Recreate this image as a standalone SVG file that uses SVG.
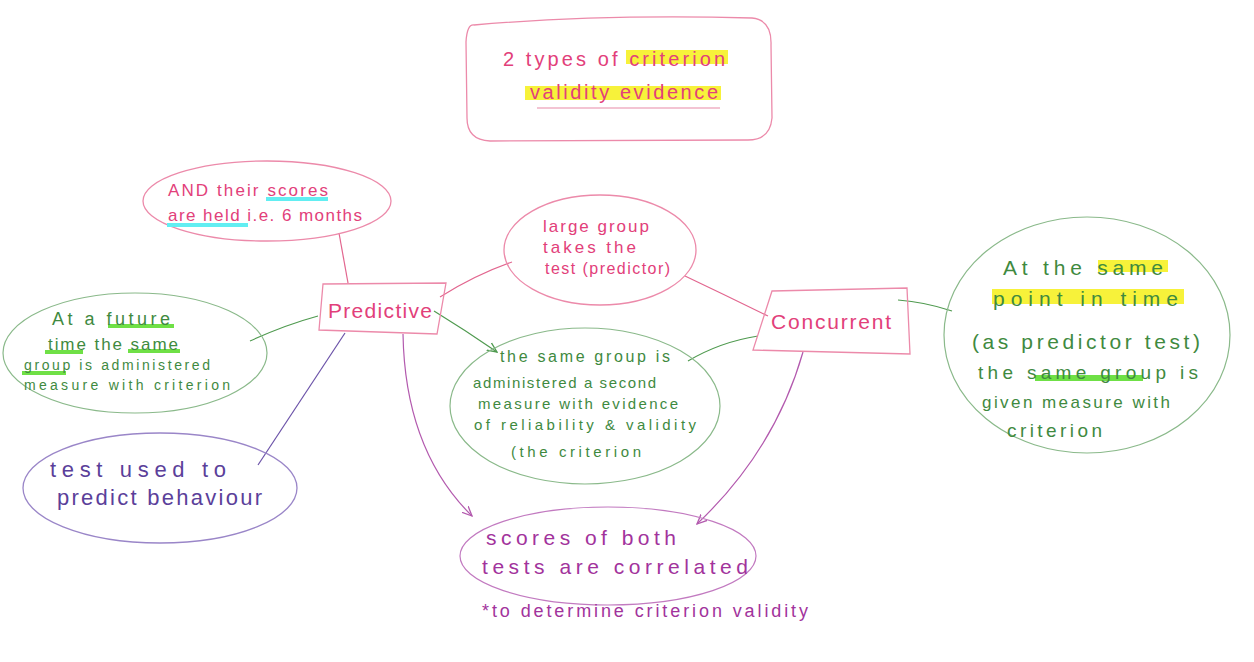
<svg xmlns="http://www.w3.org/2000/svg" width="1254" height="662" viewBox="0 0 1254 662">
<defs>
<style>
svg{font-size:17px}
.t{font-family:"Liberation Sans",Arial,sans-serif}
.pk{fill:#e2407a}
.gr{fill:#3f8a3f}
.pu{fill:#5b3f9a}
.mg{fill:#a2339c}
.spk{fill:none;stroke:#ec8aaa;stroke-width:1.3}
.sgr{fill:none;stroke:#8ab98a;stroke-width:1.2}
.spu{fill:none;stroke:#9a86c8;stroke-width:1.3}
.smg{fill:none;stroke:#c27ac0;stroke-width:1.2}
.hy{fill:#f7f23a}
.hc{fill:#62eef2}
.hg{fill:#6fe046}
</style>
<marker id="apu" viewBox="0 0 10 10" refX="9" refY="5" markerWidth="9" markerHeight="9" orient="auto"><path d="M0,1 L9,5 L0,9" fill="none" stroke="#b35aae" stroke-width="1.2"/></marker>
<marker id="agr" viewBox="0 0 10 10" refX="9" refY="5" markerWidth="9" markerHeight="9" orient="auto"><path d="M0,1 L9,5 L0,9" fill="none" stroke="#4f9a4f" stroke-width="1.2"/></marker>
</defs>
<rect width="1254" height="662" fill="#ffffff"/>

<g id="connectors" fill="none" stroke-width="1.2">
<path d="M339,233 L348,283" stroke="#e2668f"/>
<path d="M250,341 Q285,325 318,316" stroke="#4f9a4f"/>
<path d="M258,465 L345,333" stroke="#6b52a8"/>
<path d="M440,297 Q475,275 512,262" stroke="#e2668f"/>
<path d="M685,276 Q725,295 768,316" stroke="#e2668f"/>
<path d="M434,311 Q465,330 497,352" stroke="#4f9a4f" marker-end="url(#agr)"/>
<path d="M688,361 Q720,342 758,336" stroke="#4f9a4f"/>
<path d="M952,311 Q925,302 898,300" stroke="#4f9a4f"/>
<path d="M403,334 Q405,450 472,516" stroke="#b35aae" marker-end="url(#apu)"/>
<path d="M803,352 Q775,450 697,524" stroke="#b35aae" marker-end="url(#apu)"/>
</g>

<g id="title">
<path class="spk" d="M474,25 Q600,14 752,18 Q772,20 771,45 L772,118 Q770,140 748,140 L490,141 Q467,140 467,118 L466,42 Q467,24 474,25 Z"/>
<rect class="hy" x="626" y="50" width="102" height="14"/>
<rect class="hy" x="525" y="86" width="196" height="14"/>
<path d="M537,108 L720,108" stroke="#e88aa8" stroke-width="1.2"/>
<text class="t pk" x="503" y="66" font-size="20" textLength="222" lengthAdjust="spacing">2 types of criterion</text>
<text class="t pk" x="530" y="99" font-size="20" textLength="188" lengthAdjust="spacing">validity evidence</text>
</g>

<g id="scores-held">
<ellipse class="spk" cx="267" cy="201" rx="124" ry="40"/>
<rect class="hc" x="266" y="197" width="62" height="4"/>
<rect class="hc" x="167" y="223" width="81" height="4"/>
<text class="t pk" x="168" y="196" font-size="17" textLength="160" lengthAdjust="spacing">AND their scores</text>
<text class="t pk" x="168" y="221" font-size="17" textLength="194" lengthAdjust="spacing">are held i.e. 6 months</text>
</g>

<g id="predictive">
<path class="spk" d="M323,284 L446,283 L437,334 L319,330 Z"/>
<text class="t pk" x="328" y="318" font-size="21" textLength="104" lengthAdjust="spacing">Predictive</text>
</g>

<g id="future-time">
<ellipse class="sgr" cx="135" cy="353" rx="132" ry="60"/>
<rect class="hg" x="108" y="324" width="66" height="4"/>
<rect class="hg" x="45" y="350" width="38" height="4"/>
<rect class="hg" x="128" y="349" width="52" height="4"/>
<rect class="hg" x="22" y="371" width="44" height="4"/>
<text class="t gr" x="52" y="325" font-size="18" textLength="118" lengthAdjust="spacing">At a future</text>
<text class="t gr" x="48" y="350" font-size="17" textLength="130" lengthAdjust="spacing">time the same</text>
<text class="t gr" x="24" y="370" font-size="14" textLength="186" lengthAdjust="spacing">group is administered</text>
<text class="t gr" x="24" y="390" font-size="14" textLength="206" lengthAdjust="spacing">measure with criterion</text>
</g>

<g id="predict-behaviour">
<ellipse class="spu" cx="160" cy="488" rx="137" ry="55"/>
<text class="t pu" x="50" y="477" font-size="22" textLength="176" lengthAdjust="spacing">test used to</text>
<text class="t pu" x="57" y="505" font-size="22" textLength="205" lengthAdjust="spacing">predict behaviour</text>
</g>

<g id="large-group">
<ellipse class="spk" cx="600" cy="250" rx="96" ry="55"/>
<text class="t pk" x="543" y="232" font-size="17" textLength="106" lengthAdjust="spacing">large group</text>
<text class="t pk" x="543" y="253" font-size="17" textLength="93" lengthAdjust="spacing">takes the</text>
<text class="t pk" x="545" y="274" font-size="16" textLength="125" lengthAdjust="spacing">test (predictor)</text>
</g>

<g id="concurrent">
<path class="spk" d="M772,291 L907,288 L910,354 L753,350 Z"/>
<text class="t pk" x="771" y="329" font-size="21" textLength="120" lengthAdjust="spacing">Concurrent</text>
</g>

<g id="second-measure">
<ellipse class="sgr" cx="585" cy="406" rx="135" ry="78"/>
<text class="t gr" x="500" y="362" font-size="16" textLength="170" lengthAdjust="spacing">the same group is</text>
<text class="t gr" x="473" y="388" font-size="15" textLength="183" lengthAdjust="spacing">administered a second</text>
<text class="t gr" x="478" y="409" font-size="15" textLength="200" lengthAdjust="spacing">measure with evidence</text>
<text class="t gr" x="474" y="430" font-size="15" textLength="222" lengthAdjust="spacing">of reliability &amp; validity</text>
<text class="t gr" x="511" y="457" font-size="15" textLength="130" lengthAdjust="spacing">(the criterion</text>
</g>

<g id="same-point">
<ellipse class="sgr" cx="1087" cy="335" rx="143" ry="118"/>
<rect class="hy" x="1098" y="260" width="70" height="12"/>
<rect class="hy" x="992" y="289" width="192" height="15"/>
<rect class="hg" x="1035" y="375" width="108" height="6"/>
<text class="t gr" x="1003" y="275" font-size="21" textLength="160" lengthAdjust="spacing">At the same</text>
<text class="t gr" x="993" y="306" font-size="21" textLength="185" lengthAdjust="spacing">point in time</text>
<text class="t gr" x="972" y="349" font-size="21" textLength="228" lengthAdjust="spacing">(as predictor test)</text>
<text class="t gr" x="978" y="379" font-size="19" textLength="220" lengthAdjust="spacing">the same group is</text>
<text class="t gr" x="982" y="408" font-size="17" textLength="188" lengthAdjust="spacing">given measure with</text>
<text class="t gr" x="1007" y="437" font-size="19" textLength="95" lengthAdjust="spacing">criterion</text>
</g>

<g id="correlated">
<ellipse class="smg" cx="608" cy="556" rx="148" ry="49"/>
<text class="t mg" x="486" y="545" font-size="21" textLength="190" lengthAdjust="spacing">scores of both</text>
<text class="t mg" x="482" y="574" font-size="21" textLength="266" lengthAdjust="spacing">tests are correlated</text>
<text class="t mg" x="482" y="617" font-size="18" textLength="326" lengthAdjust="spacing">*to determine criterion validity</text>
</g>
</svg>
